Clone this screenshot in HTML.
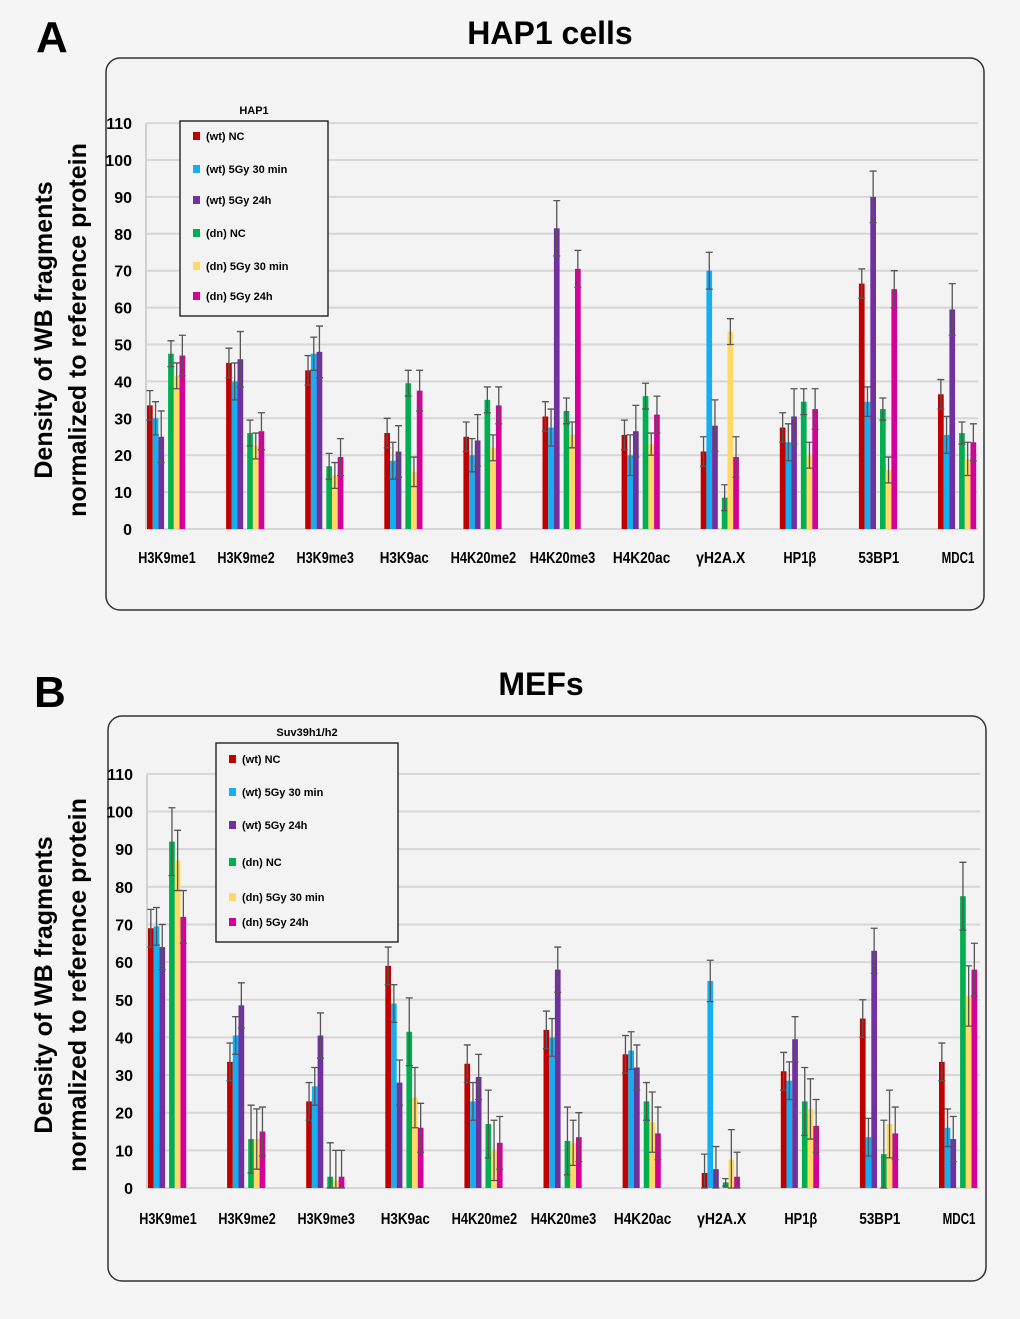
<!DOCTYPE html>
<html><head><meta charset="utf-8">
<style>
body{margin:0;background:#f5f5f5;font-family:"Liberation Sans",Arial,sans-serif;}
svg{display:block}
</style></head>
<body>
<svg id="chart" width="1020" height="1319" viewBox="0 0 1020 1319" xmlns="http://www.w3.org/2000/svg">
<rect width="1020" height="1319" fill="#f5f5f5"/>
</svg>
<script>
const categories=["H3K9me1","H3K9me2","H3K9me3","H3K9ac","H4K20me2","H4K20me3","H4K20ac","γH2A.X","HP1β","53BP1","MDC1"];
const seriesNames=["(wt) NC","(wt) 5Gy 30 min","(wt) 5Gy 24h","(dn) NC","(dn) 5Gy 30 min","(dn) 5Gy 24h"];
const yTicks=[0,10,20,30,40,50,60,70,80,90,100,110];
// Panel A (HAP1)
const aWtNC=[33.5,45,43,26,25,30.5,25.5,21,27.5,66.5,36.5];
const aWt30=[30,40,47.5,18.5,20,27.5,20,70,23.5,34.5,25.5];
const aWt24=[25,46,48,21,24,81.5,26.5,28,30.5,90,59.5];
const aDnNC=[47.5,26,17,39.5,35,32,36,8.5,34.5,32.5,26];
const aDn30=[41.5,22.5,14.5,15.5,22,25.5,23,53.5,20,16,19];
const aDn24=[47,26.5,19.5,37.5,33.5,70.5,31,19.5,32.5,65,23.5];
const aErr=[[4,4,4,4,4,4,4,4,4,4,4],[4.5,5,4.5,5,4.5,5,5.5,5,5,4,5],[7,7.5,7,7,7,7.5,7,7,7.5,7,7],[3.5,3.5,3.5,3.5,3.5,3.5,3.5,3.5,3.5,3,3],[3.5,3.5,3.5,4,3.5,3.5,3,3.5,3.5,3.5,4.5],[5.5,5,5,5.5,5,5,5,5.5,5.5,5,5]];
// Panel B (MEFs)
const bWtNC=[69,33.5,23,59,33,42,35.5,4,31,45,33.5];
const bWt30=[69.5,40.5,27,49,23,40,36.5,55,28.5,13.5,16];
const bWt24=[64,48.5,40.5,28,29.5,58,32,5,39.5,63,13];
const bDnNC=[92,13,3,41.5,17,12.5,23,1.5,23,9,77.5];
const bDn30=[87,13,2,24,10,12,17.5,7.5,21,17,51];
const bDn24=[72,15,3,16,12,13.5,14.5,3,16.5,14.5,58];
const bErr=[[5,5,5,5,5,5,5,5,5,5,5],[5,5,5,5,5,5,5,5.5,5,5,5],[6,6,6,6,6,6,6,6,6,6,6],[9,9,9,9,9,9,5,1,9,9,9],[8,8,8,8,8,6,8,8,8,9,8],[7,6.5,7,6.5,7,6.5,7,6.5,7,7,7]];
const colors=["#c00000","#14aff0","#7030a0","#00b050","#ffd966","#d4009a"];

const NS="http://www.w3.org/2000/svg";
const svg=document.getElementById("chart");
function mk(tag,attrs,parent,txt){const e=document.createElementNS(NS,tag);for(const k in attrs)e.setAttribute(k,attrs[k]);if(txt!==undefined)e.textContent=txt;(parent||svg).appendChild(e);return e;}

function panel(cfg){
  const g=mk("g",{});
  
  
  const lt=mk("text",{x:cfg.letterX,y:cfg.letterY,"font-size":44,"font-weight":"bold",fill:"#000"},g,cfg.letter);
  
  
  const tt=mk("text",{x:cfg.titleX,y:cfg.titleY,"font-size":32,"font-weight":"bold","text-anchor":"middle",fill:"#000"},g,cfg.title);
  
  
  const fr=mk("rect",{x:cfg.fx,y:cfg.fy,width:cfg.fw,height:cfg.fh,rx:14,fill:"#f3f3f3",stroke:"#333","stroke-width":1.5},g);
  
  
  const y0=cfg.y0, ppu=cfg.ppu, x0=cfg.x0, x1=cfg.x1;
  const Y=v=>y0-v*ppu;
  const yl=mk("text",{transform:`translate(${cfg.ylx},${cfg.yly}) rotate(-90)`,"font-size":25,"font-weight":"bold","text-anchor":"middle",fill:"#000"},g);
  
  
  mk("tspan",{x:0,dy:0},yl,"Density of WB fragments");
  mk("tspan",{x:0,dy:34},yl,"normalized  to reference protein");
  yTicks.forEach(t=>{
    const l=mk("line",{x1:x0,x2:x1,y1:Y(t),y2:Y(t),stroke:"#d6d6d6","stroke-width":2},g);
    
    
    const tx=mk("text",{x:x0-14,y:Y(t)+6,"font-size":16,"font-weight":"bold","text-anchor":"end",fill:"#000"},g,String(t));
    
    
  });
  mk("line",{x1:x0,x2:x0,y1:Y(0),y2:Y(110),stroke:"#d0d0d0","stroke-width":2},g);
  const gw=79.1, bw=5.7;
  categories.forEach((c,i)=>{
    const gx=x0+1+i*gw;
    const cl=mk("text",{x:gx+20,y:cfg.catY,"font-size":16,"font-weight":"bold","text-anchor":"middle",fill:"#000",textLength:c.length*8.2,lengthAdjust:"spacingAndGlyphs"},g,c);
    
    
    cfg.data.forEach((arr,s)=>{
      const bx=gx+s*bw+(s>=3?4:0);
      const v=arr[i];
      const r=mk("rect",{x:bx,y:Y(v),width:bw,height:v*ppu,fill:colors[s]},g);
      
      
      const e=cfg.err[s][i], cx=bx+bw/2;
      const eb=mk("path",{d:`M${cx},${Y(v+e)}V${Y(Math.max(0,v-e))}M${cx-3.5},${Y(v+e)}h7M${cx-3.5},${Y(Math.max(0,v-e))}h7`,stroke:"#555","stroke-width":1.3,fill:"none"},g);
      
      
    });
  });
  const lg=mk("g",{},g);
  
  
  mk("text",{x:(cfg.lx+cfg.lx2)/2,y:cfg.ly-7,"font-size":11,"font-weight":"bold","text-anchor":"middle"},lg,cfg.legTitle);
  mk("rect",{x:cfg.lx,y:cfg.ly,width:cfg.lx2-cfg.lx,height:cfg.ly2-cfg.ly,fill:"#f3f3f3",stroke:"#111","stroke-width":1.3},lg);
  seriesNames.forEach((n,s)=>{
    const yy=cfg.legYs[s];
    const le=mk("g",{},lg);
    
    
    mk("rect",{x:cfg.lx+13,y:yy-6,width:7,height:8,fill:colors[s]},le);
    mk("text",{x:cfg.lx+26,y:yy+2,"font-size":11,"font-weight":"bold"},le,n);
  });
}
panel({id:"hap1",letter:"A",letterX:36,letterY:52,title:"HAP1 cells",titleX:550,titleY:44,
  fx:106,fy:58,fw:878,fh:552,x0:146,x1:978,y0:529,ppu:3.69,ylx:52,yly:330,catY:563,
  data:[aWtNC,aWt30,aWt24,aDnNC,aDn30,aDn24],err:aErr,
  legTitle:"HAP1",lx:180,lx2:328,ly:121,ly2:316,legYs:[138,171,202,235,268,298]});
panel({id:"mefs",letter:"B",letterX:34,letterY:707,title:"MEFs",titleX:541,titleY:695,
  fx:108,fy:716,fw:878,fh:565,x0:147,x1:980,y0:1188,ppu:3.765,ylx:52,yly:985,catY:1224,
  data:[bWtNC,bWt30,bWt24,bDnNC,bDn30,bDn24],err:bErr,
  legTitle:"Suv39h1/h2",lx:216,lx2:398,ly:743,ly2:942,legYs:[761,794,827,864,899,924]});
</script>
</body></html>
